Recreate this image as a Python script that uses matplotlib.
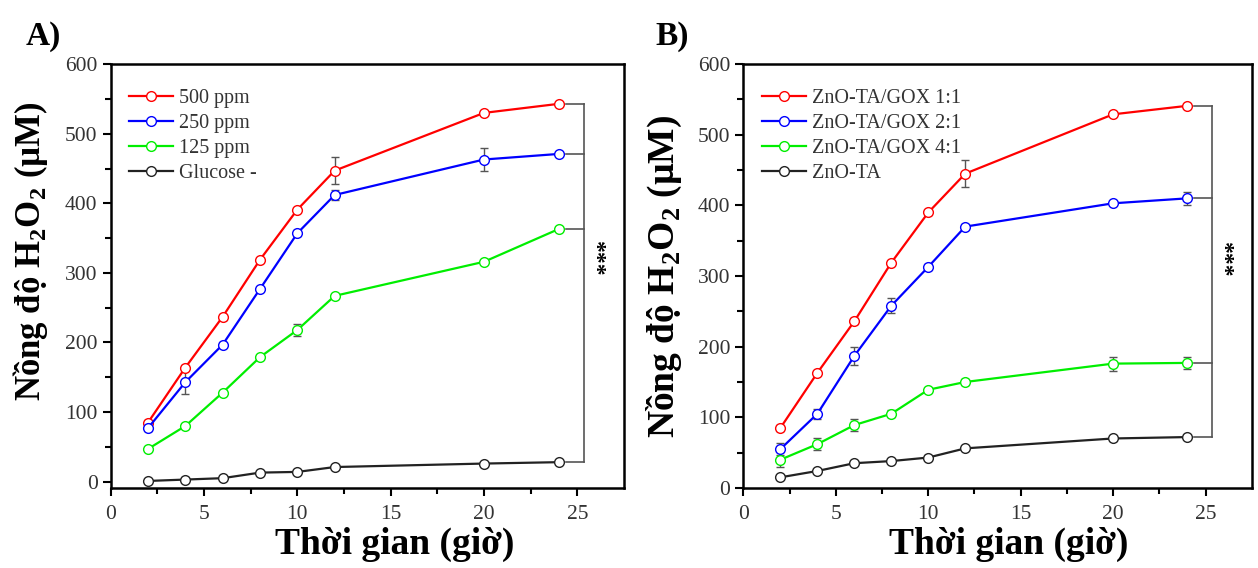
import numpy as np
import matplotlib
matplotlib.use("Agg")
import matplotlib.pyplot as plt

plt.rcParams['font.family'] = ['Liberation Serif', 'DejaVu Serif']
plt.rcParams['mathtext.fontset'] = 'custom'
plt.rcParams['mathtext.rm'] = 'Liberation Serif'
plt.rcParams['mathtext.bf'] = 'Liberation Serif:bold'

# time points (hours)
hours = [2, 4, 6, 8, 10, 12, 20, 24]

# panel A: glucose concentration
labels_a = ["500 ppm", "250 ppm", "125 ppm", "Glucose -"]
a_500 = [85, 164, 237, 319, 391, 447, 530, 543]
a_250 = [77, 143, 197, 277, 357, 412, 463, 471]
a_125 = [47, 80, 128, 179, 218, 267, 316, 363]
a_neg = [1, 3, 5, 13, 14, 21, 26, 28]
a_500_err = [4, 4, 4, 3, 3, 19, 3, 3]
a_250_err = [4, 17, 3, 3, 4, 7, 16, 3]
a_125_err = [3, 3, 3, 3, 9, 3, 3, 3]
a_neg_err = [3, 3, 3, 3, 3, 2, 2, 2]

# panel B: ZnO-TA / GOX ratio
labels_b = ["ZnO-TA/GOX 1:1", "ZnO-TA/GOX 2:1", "ZnO-TA/GOX 4:1", "ZnO-TA"]
b_11 = [85, 163, 236, 319, 390, 445, 529, 541]
b_21 = [55, 105, 187, 258, 313, 370, 403, 410]
b_41 = [40, 62, 89, 105, 139, 150, 176, 177]
b_ta = [15, 24, 35, 38, 43, 56, 70, 72]
b_11_err = [4, 3, 4, 3, 3, 19, 3, 3]
b_21_err = [9, 7, 13, 11, 4, 3, 3, 9]
b_41_err = [11, 9, 8, 5, 3, 4, 10, 8]
b_ta_err = [3, 3, 3, 3, 3, 3, 3, 3]

colors = ['#ff0000', '#0000ff', '#00ee00', '#222222']

fig = plt.figure(figsize=(12.58, 5.68), dpi=100)
axA = fig.add_axes([0.088, 0.141, 0.408, 0.746])
axB = fig.add_axes([0.591, 0.141, 0.404, 0.746])

def panel(ax, series, errs, labels, ylim, letter, lx, star_y, xlab_x, ylab_y, ylab_size):
    handles = []
    for y, e, c, lab in zip(series, errs, colors, labels):
        cont = ax.errorbar(hours, y, yerr=e, color=c, ecolor='#555555', elinewidth=1,
                           capsize=3, capthick=1, lw=1.6, marker='o', ms=7,
                           mfc='white', mec=c, mew=1, label=lab, zorder=3)
        handles.append(cont[0])
    ax.set_xlim(0, 27.5)
    ax.set_ylim(*ylim)
    ax.set_xticks([0, 5, 10, 15, 20, 25])
    ax.set_xticks(np.arange(2.5, 27.5, 5), minor=True)
    ax.set_yticks(np.arange(0, 601, 100))
    ax.set_yticks(np.arange(50, 600, 100), minor=True)
    ax.tick_params(which='both', direction='out', top=False, right=False,
                   width=1.5, labelsize=15.5, labelcolor='#333333')
    ax.tick_params(which='major', length=6)
    ax.tick_params(which='minor', length=4)
    ax.tick_params(axis='x', which='major', pad=6)
    for s in ax.spines.values():
        s.set_linewidth(1.8)
    ax.set_xlabel("Thời gian (giờ)", fontsize=27, fontweight='bold')
    ax.xaxis.set_label_coords(xlab_x, -0.092)
    ax.set_ylabel(r"Nồng độ H$_\mathbf{2}$O$_\mathbf{2}$ (µM)", fontsize=ylab_size,
                  fontweight='bold')
    ax.yaxis.set_label_coords(-0.118, ylab_y)
    leg = ax.legend(handles, labels, loc='upper left', frameon=False, fontsize=14.5,
                    handlelength=2.2, handletextpad=0.3, labelspacing=0.3,
                    borderaxespad=0.5, bbox_to_anchor=(0.0, 0.985))
    for t in leg.get_texts():
        t.set_color('#333333')
    # significance bracket
    ends = [s[-1] for s in series]
    for v in ends:
        ax.plot([24.4, 25.35], [v, v], color='#555555', lw=1.2, zorder=2)
    ax.plot([25.35, 25.35], [min(ends), max(ends)], color='#555555', lw=1.2, zorder=2)
    ax.text(25.9, star_y, "***", rotation=-90, ha='center', va='center',
            fontsize=17, fontweight='bold')
    fig.text(lx, 0.935, letter, fontsize=24, fontweight='bold', ha='left', va='center')

panel(axA, [a_500, a_250, a_125, a_neg], [a_500_err, a_250_err, a_125_err, a_neg_err],
      labels_a, (-9, 600), "A)", 0.02, 322, 0.553, 0.558, 25)
panel(axB, [b_11, b_21, b_41, b_ta], [b_11_err, b_21_err, b_41_err, b_ta_err],
      labels_b, (0, 600), "B)", 0.521, 325, 0.522, 0.5, 27)

fig.savefig("out.png", dpi=100)
